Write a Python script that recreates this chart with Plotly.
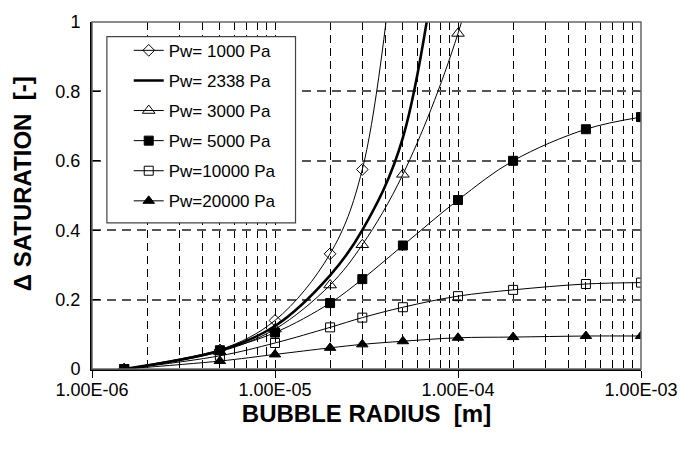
import plotly.graph_objects as go

# Bubble radius [m] at which saturation change was evaluated
radius = [1.5e-6, 5e-6, 1e-5, 2e-5, 3e-5, 5e-5, 1e-4, 2e-4, 5e-4, 1e-3]

# Saturation change [-] per water vapour pressure
sat_1000 = [0.0, 0.055, 0.140, 0.332, 0.575, 1.45]
sat_2338 = [0.0, 0.053, 0.124, 0.270, 0.400, 0.667, 1.65]
sat_3000 = [0.0, 0.050, 0.115, 0.242, 0.358, 0.561, 0.967, 1.60]
sat_5000 = [0.0, 0.054, 0.105, 0.190, 0.259, 0.356, 0.487, 0.600, 0.691, 0.726]
sat_10000 = [0.0, 0.038, 0.075, 0.120, 0.148, 0.178, 0.210, 0.228, 0.245, 0.249]
sat_20000 = [0.0, 0.023, 0.042, 0.061, 0.071, 0.080, 0.090, 0.092, 0.095, 0.095]

x_major = [1e-6, 1e-5, 1e-4, 1e-3]
x_major_text = ["1.00E-06", "1.00E-05", "1.00E-04", "1.00E-03"]
x_minor = [m * d for d in (1e-6, 1e-5, 1e-4) for m in range(2, 10)]
y_ticks = [0, 0.2, 0.4, 0.6, 0.8, 1.0]

FONT = "Liberation Sans, Arial, sans-serif"

series = [
    ("Pw= 1000 Pa", sat_1000, dict(symbol="diamond-open", size=9), 1.0, "lines+markers"),
    ("Pw= 2338 Pa", sat_2338, None, 2.6, "lines"),
    ("Pw= 3000 Pa", sat_3000, dict(symbol="triangle-up-open", size=11), 1.0, "lines+markers"),
    ("Pw= 5000 Pa", sat_5000, dict(symbol="square", size=9), 1.0, "lines+markers"),
    ("Pw=10000 Pa", sat_10000, dict(symbol="square-open", size=9), 1.0, "lines+markers"),
    ("Pw=20000 Pa", sat_20000, dict(symbol="triangle-up", size=10), 1.0, "lines+markers"),
]

fig = go.Figure()
for i, (name, ys, marker, lw, mode) in enumerate(series):
    kw = {}
    if marker is not None:
        m = dict(color="black", line=dict(color="black", width=1))
        m.update(marker)
        kw["marker"] = m
    fig.add_trace(go.Scatter(
        x=radius[:len(ys)], y=ys, name=name, mode=mode,
        line=dict(color="black", width=lw, shape="spline", smoothing=1.0),
        legendgroup=f"g{i}", **kw,
    ))

# plot-area geometry in pixels
W, H = 690, 452
L, R, T, B = 92, 45, 15, 83
pw, ph = W - L - R, H - T - B


def px_x(px):
    return (px - L) / pw


def px_y(py):
    return (H - B - py) / ph


fig.update_layout(
    width=W, height=H,
    margin=dict(l=L, r=R, t=T, b=B),
    paper_bgcolor="white", plot_bgcolor="white",
    font=dict(family=FONT, color="black", size=18),
    showlegend=True,
    legend=dict(
        x=px_x(129), y=px_y(26), xanchor="left", yanchor="top",
        bgcolor="rgba(0,0,0,0)", borderwidth=0,
        font=dict(family=FONT, size=17, color="black"),
        tracegroupgap=5,
    ),
    shapes=[
        # plot frame
        dict(type="rect", xref="paper", yref="paper", x0=0, x1=1, y0=0, y1=1,
             line=dict(color="#666", width=1.5), layer="above"),
        # legend box
        dict(type="rect", xref="paper", yref="paper",
             x0=px_x(107), x1=px_x(297), y0=px_y(220), y1=px_y(30),
             line=dict(color="#444", width=1.2), fillcolor="white", layer="above"),
    ],
    annotations=[
        dict(text="<b>\u0394 SATURATION\u00a0\u00a0[-]</b>", textangle=-90,
             xref="paper", yref="paper", x=px_x(22), y=px_y(180),
             xanchor="center", yanchor="middle", showarrow=False,
             font=dict(family=FONT, size=24, color="black")),
    ],
)

fig.update_xaxes(
    type="log", range=[-6, -3],
    tickmode="array", tickvals=x_major, ticktext=x_major_text,
    ticks="outside", ticklen=7, tickcolor="black", tickwidth=1,
    showline=True, linecolor="black", linewidth=2,
    showgrid=True, gridcolor="black", gridwidth=1, griddash="8px,5px",
    minor=dict(tickvals=x_minor, showgrid=True, gridcolor="black",
               gridwidth=1, griddash="8px,5px", ticks=""),
    tickfont=dict(size=18), ticklabelstandoff=-4,
    title=dict(text="<b>BUBBLE RADIUS\u00a0\u00a0[m]</b>", font=dict(size=24), standoff=2),
    zeroline=False,
)
fig.update_yaxes(
    range=[0, 1], tickmode="array", tickvals=y_ticks,
    ticks="inside", ticklen=8, tickcolor="black", tickwidth=1,
    showline=True, linecolor="black", linewidth=2,
    showgrid=True, gridcolor="#555", gridwidth=1.5, griddash="9px,6px",
    tickfont=dict(size=18), ticklabelstandoff=6,
    zeroline=False,
)

fig.write_html("out.html")
